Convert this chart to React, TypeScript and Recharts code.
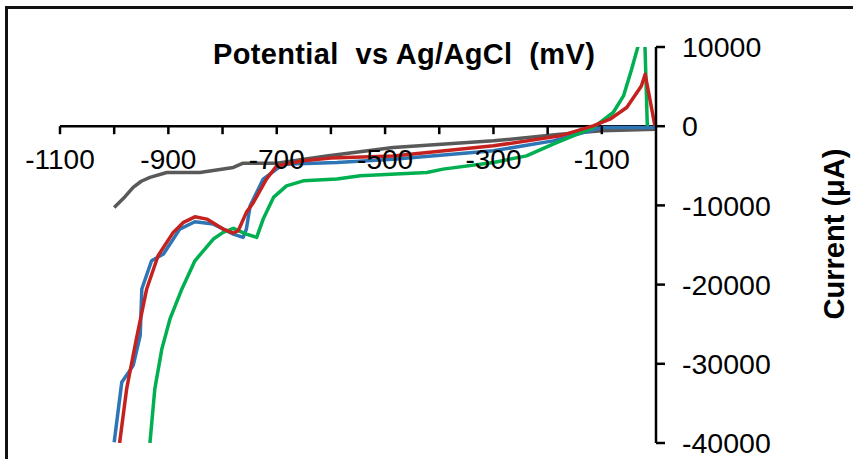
import { LineChart, Line, XAxis, YAxis, ReferenceLine, ReferenceDot } from 'recharts';

// potential (mV) / current (uA)
const grayX = [-1000, -980, -965, -950, -934, -903, -842, -780, -762, -700, -608, -485, -300, -177, -100, 0];
const grayY = [-10250, -8900, -7730, -6950, -6470, -5840, -5840, -5210, -4670, -4670, -3750, -2690, -1850, -1010, -590, -380];

const blueX = [-1000, -986, -965, -952, -949, -931, -909, -879, -851, -817, -780, -762, -756, -749, -725, -688, -589, -485, -300, -190, -100, 0];
const blueY = [-39900, -32320, -30230, -26440, -20550, -16990, -16140, -12990, -12070, -12360, -13620, -14040, -12990, -10050, -6680, -4790, -4580, -4160, -3110, -1850, -170, -170];

const redX = [-990, -977, -959, -940, -919, -891, -872, -851, -829, -799, -780, -771, -756, -743, -719, -700, -651, -600, -485, -300, -177, -116, -85, -54, -27, -20, -2];
const redY = [-40000, -33170, -26860, -20550, -16350, -13410, -12140, -11440, -11730, -12990, -13490, -13200, -10880, -9620, -6680, -5000, -4370, -4030, -3750, -2480, -1220, 40, 880, 2360, 5080, 6560, 40];

const greenX = [-934, -925, -912, -897, -875, -851, -817, -799, -780, -756, -737, -725, -706, -682, -651, -589, -546, -423, -393, -300, -239, -190, -116, -79, -60, -45, -33, -21.5, -16];
const greenY = [-40000, -33170, -28120, -24340, -20550, -16990, -14250, -13410, -12900, -13620, -14040, -11730, -8990, -7530, -6900, -6680, -6270, -5840, -5420, -4580, -3750, -2270, -170, 1730, 3820, 7190, 10130, 12800, 0];

const xTicks = [-1100, -1000, -900, -800, -700, -600, -500, -400, -300, -200, -100];
const xLabels = [-1100, -900, -700, -500, -300, -100];
const yTicks = [10000, 0, -10000, -20000, -30000, -40000];

const zip = (xs: number[], ys: number[]) => xs.map((x, i) => ({ x, y: ys[i] }));

const font = '"Liberation Sans", Arial, sans-serif';

function XTick(props: any) {
  const { cx, cy, value } = props;
  return (
    <g>
      <line x1={cx} y1={cy} x2={cx} y2={cy + 8} stroke="#000" strokeWidth={2.5} />
      {xLabels.includes(value) && (
        <text x={cx} y={cy + 43} textAnchor="middle" fontSize={28} fontFamily={font} fill="#000">
          {value}
        </text>
      )}
    </g>
  );
}

const lineProps = { dataKey: 'y', type: 'linear' as const, dot: false, strokeWidth: 3.5, strokeLinejoin: 'round' as const, isAnimationActive: false };

export default function App() {
  return (
    <div style={{ position: 'fixed', left: 0, top: 0, width: 853, height: 459, background: '#fff', fontFamily: font }}>
      <div style={{ position: 'absolute', left: 5, top: 6, width: 848, height: 453, borderLeft: '3px solid #111', borderTop: '3px solid #111' }} />
      <LineChart width={853} height={459} margin={{ top: 47, right: 97, bottom: 16, left: 60 }}>
        <XAxis type="number" dataKey="x" domain={[-1100, 0]} hide allowDataOverflow />
        <YAxis
          orientation="right"
          type="number"
          domain={[-40000, 10000]}
          ticks={yTicks}
          allowDataOverflow
          width={100}
          axisLine={{ stroke: '#000', strokeWidth: 2.5 }}
          tickLine={{ stroke: '#000', strokeWidth: 2.5 }}
          tickSize={9}
          tickMargin={17}
          tick={{ fontSize: 28.5, fill: '#000', fontFamily: font }}
        />
        <ReferenceLine y={0} stroke="#000" strokeWidth={2.5} />
        {xTicks.map((v) => (
          <ReferenceDot key={v} x={v} y={0} r={0} shape={(p: any) => <XTick {...p} value={v} />} />
        ))}
        <Line data={zip(grayX, grayY)} stroke="#595959" {...lineProps} />
        <Line data={zip(blueX, blueY)} stroke="#2e75b6" {...lineProps} />
        <Line data={zip(greenX, greenY)} stroke="#00b050" {...lineProps} />
        <Line data={zip(redX, redY)} stroke="#c5221f" {...lineProps} />
      </LineChart>
      <div style={{ position: 'absolute', left: 213, top: 40, fontSize: 29, lineHeight: '28px', letterSpacing: 0.35, fontWeight: 'bold', whiteSpace: 'pre' }}>
        {'Potential  vs Ag/AgCl  (mV)'}
      </div>
      <div style={{ position: 'absolute', left: 834, top: 234, fontSize: 29, fontWeight: 'bold', whiteSpace: 'nowrap', transform: 'translate(-50%, -50%) rotate(-90deg)' }}>
        Current (μA)
      </div>
    </div>
  );
}
